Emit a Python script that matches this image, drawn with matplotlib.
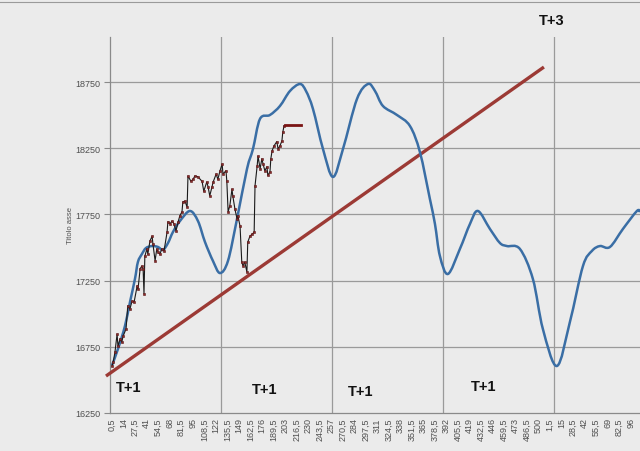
import matplotlib
matplotlib.use("Agg")
import matplotlib.pyplot as plt
import numpy as np
from matplotlib.path import Path
from matplotlib.patches import PathPatch

# ---- data (x in category-label units) ----
tick_pos = [0.5 + 13.5 * i for i in range(46)]
tick_labels = [
    "0,5", "14", "27,5", "41", "54,5", "68", "81,5", "95", "108,5", "122",
    "135,5", "149", "162,5", "176", "189,5", "203", "216,5", "230", "243,5", "257",
    "270,5", "284", "297,5", "311", "324,5", "338", "351,5", "365", "378,5", "392",
    "405,5", "419", "432,5", "446", "459,5", "473", "486,5", "500",
    "1,5", "15", "28,5", "42", "55,5", "69", "82,5", "96",
]
y_ticks = [16250, 16750, 17250, 17750, 18250, 18750]
v_grid = [128, 258, 388, 518]

price_x = [
    0.5, 2.0, 4.0, 6.5, 7.5, 10.0, 12.0, 13.5, 17.0, 19.0, 21.5, 24.0, 26.5,
    30.0, 31.0, 33.5, 35.5, 37.0, 38.0, 39.0, 41.5, 42.5, 45.0, 47.5, 48.5,
    51.0, 53.0, 54.5, 56.5, 59.0, 61.5, 65.0, 66.0, 68.5, 71.0, 73.0, 75.5,
    78.0, 80.0, 82.5, 83.5, 86.0, 88.5, 89.5, 93.0, 95.5, 97.5, 101.0, 106.0,
    108.0, 111.5, 113.0, 115.0, 117.5, 119.0, 122.5, 124.5, 127.0, 129.5,
    130.5, 134.0, 135.0, 136.5, 138.5, 141.0, 142.0, 144.5, 147.0, 148.0,
    150.5, 152.5, 154.0, 156.0, 158.5, 159.5, 162.0, 164.5, 167.0, 168.0,
    170.5, 171.5, 174.0, 176.0, 177.5, 179.5, 182.0, 183.0, 185.5, 186.5,
    188.0, 190.0, 193.5, 195.0, 197.0, 199.5, 200.5, 202.0,
]
price_y = [
    16605, 16635, 16710, 16845, 16755, 16810, 16785, 16830, 16885, 17060,
    17035, 17095, 17090, 17210, 17185, 17340, 17360, 17335, 17150, 17435,
    17490, 17450, 17550, 17585, 17525, 17400, 17490, 17465, 17450, 17490,
    17475, 17615, 17695, 17680, 17700, 17680, 17625, 17695, 17740, 17770,
    17845, 17850, 17805, 18040, 18000, 18015, 18040, 18035, 18000, 17925,
    17995, 17960, 17890, 17955, 17995, 18055, 18015, 18080, 18130, 18055,
    18080, 18000, 17770, 17815, 17940, 17890, 17790, 17715, 17740, 17660,
    17390, 17360, 17390, 17315, 17540, 17585, 17600, 17615, 17965, 18115,
    18190, 18095, 18170, 18130, 18080, 18110, 18045, 18070, 18170, 18230,
    18265, 18300, 18245, 18265, 18305, 18370, 18420,
]
last_x = [203.0, 222.0]
last_y = [18425, 18425]

cycle_x = [
    0.5, 7.5, 15.7, 21.6, 27.4, 30.9, 35.6, 40.3, 47.3, 54.4, 60.2, 66.1,
    71.9, 80.1, 91.8, 101.2, 109.4, 118.8, 127.0, 136.3, 146.9, 158.6, 165.6,
    173.8, 185.5, 197.2, 208.9, 220.6, 227.7, 235.9, 247.6, 259.3, 271.0,
    287.4, 300.3, 308.5, 317.8, 334.2, 349.4, 361.1, 372.8, 378.7, 384.5,
    393.9, 407.9, 419.7, 429.0, 443.1, 454.8, 463.0, 478.2, 493.4, 505.1,
    521.5, 536.7, 552.0, 562.5, 571.9, 583.6, 598.8, 615.2, 618.8,
]
cycle_y = [
    16610, 16733, 16907, 17088, 17262, 17391, 17451, 17496, 17511, 17504,
    17481, 17534, 17617, 17700, 17776, 17700, 17542, 17398, 17307, 17398,
    17715, 18093, 18244, 18471, 18501, 18569, 18682, 18735, 18682, 18546,
    18244, 18033, 18244, 18622, 18735, 18682, 18569, 18501, 18418, 18221,
    17866, 17678, 17436, 17300, 17489, 17678, 17776, 17640, 17534, 17511,
    17489, 17262, 16884, 16605, 16937, 17360, 17474, 17511, 17504, 17640,
    17776, 17768,
]

trend_x = [-6.5, 506.3]
trend_y = [16529, 18863]

labels = [("T+1", 129, 388), ("T+1", 265, 390), ("T+1", 361, 392),
          ("T+1", 484, 387), ("T+3", 552, 21)]


def smooth_path(xs, ys):
    """Excel-like smoothed line: Catmull-Rom segments as cubic Beziers."""
    pts = np.column_stack([xs, ys]).astype(float)
    ext = np.vstack([pts[0], pts, pts[-1]])
    verts = [pts[0]]
    codes = [Path.MOVETO]
    for i in range(1, len(ext) - 2):
        p0, p1, p2, p3 = ext[i - 1], ext[i], ext[i + 1], ext[i + 2]
        verts += [p1 + (p2 - p0) / 6.0, p2 - (p3 - p1) / 6.0, p2]
        codes += [Path.CURVE4] * 3
    return Path(verts, codes)


bg = "#ebebeb"
fig = plt.figure(figsize=(6.4, 4.52), dpi=100, facecolor=bg)
ax = fig.add_axes([110 / 640, 1 - 414 / 452, 1 - 110 / 640, (414 - 38) / 452])
ax.set_facecolor(bg)

ax.set_xlim(-1.8, 618.8)
ax.set_ylim(16250, 19090)

for yv in y_ticks[1:]:
    ax.axhline(yv, color="#9a9a9a", lw=0.9, zorder=1)
for xv in v_grid:
    ax.axvline(xv, color="#9a9a9a", lw=0.9, zorder=1)

ax.plot(trend_x, trend_y, color="#9c3a35", lw=2.4, zorder=3, clip_on=False,
        solid_capstyle="butt")
ax.add_patch(PathPatch(smooth_path(cycle_x, cycle_y), fill=False,
                       edgecolor="#3a6ea5", lw=1.8, zorder=4,
                       joinstyle="round"))
ax.plot(price_x, price_y, color="#1a1a1a", lw=0.8, marker="s", ms=1.6,
        mfc="#8b2a2a", mec="#5a1515", mew=0.4, zorder=5)
ax.plot(last_x, last_y, color="#7a1414", lw=2.0, zorder=5)

for s in ["top", "right"]:
    ax.spines[s].set_visible(False)
for s in ["left", "bottom"]:
    ax.spines[s].set_color("#8a8a8a")
    ax.spines[s].set_linewidth(0.9)

ax.set_yticks(y_ticks)
ax.set_yticklabels([str(v) for v in y_ticks], fontsize=6.5, color="#505050",
                   family="Liberation Sans")
ax.set_xticks(tick_pos)
ax.set_xticklabels(tick_labels, rotation=90, fontsize=6.5, color="#505050",
                   family="Liberation Sans")
ax.tick_params(axis="y", length=4, width=0.8, color="#8a8a8a", pad=3)
ax.tick_params(axis="x", length=0, pad=3)

fig.text(70 / 640, 1 - 226 / 452, "Titolo asse", rotation=90, fontsize=5.5,
         color="#505050", ha="center", va="center", family="Liberation Sans")

for txt, px, py in labels:
    fig.text(px / 640, 1 - py / 452, txt, fontsize=10.5, fontweight="bold",
             ha="center", va="center", family="Liberation Sans", color="#111111")

# sheet border along the top of the screenshot
fig.add_artist(plt.Line2D([0, 1], [1 - 3 / 452, 1 - 3 / 452],
                          transform=fig.transFigure, color="#9a9a9a", lw=0.8))

fig.savefig("out.png", dpi=100, facecolor=bg)
